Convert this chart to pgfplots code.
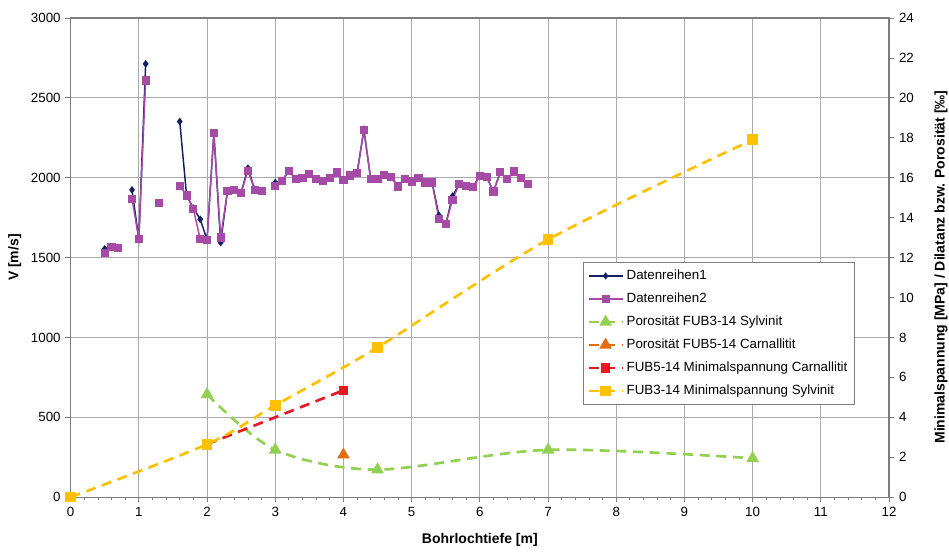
\documentclass[border=0pt]{standalone}
\usepackage{fontspec}
\setmainfont{Liberation Sans}
\usepackage{pgfplots}
\pgfplotsset{compat=1.18}
\definecolor{dr1}{RGB}{20,30,100}
\definecolor{dr2}{RGB}{165,75,165}
\definecolor{grn}{RGB}{146,208,80}
\definecolor{org}{RGB}{228,108,10}
\definecolor{rd}{RGB}{230,25,35}
\definecolor{yel}{RGB}{255,192,0}
\definecolor{gridgray}{RGB}{170,170,170}
\definecolor{axgray}{RGB}{125,125,125}
\pgfplotsset{
  base/.style={scale only axis, width=614pt, height=359.5pt,
    xmin=0, xmax=12,
    /pgf/number format/assume math mode=true,
    /pgf/number format/1000 sep={},
    tick label style={font=\fontsize{10}{12}\selectfont},
    label style={font=\fontsize{10.5}{12}\selectfont\bfseries},
    tick align=outside, major tick length=4pt, minor tick length=2.5pt,
    tick style={axgray, line width=0.6pt},
  },
  dashline/.style={line width=2pt, dash pattern=on 7.5pt off 5pt},
}
\begin{document}
\begin{tikzpicture}
\begin{axis}[base, name=main,
  ymin=0, ymax=3000, ytick={0,500,...,3000},
  xtick={0,...,12}, minor x tick num=4,
  xtick pos=bottom, ytick pos=left,
  grid=major, major grid style={gridgray, line width=0.8pt},
  axis line style={axgray, line width=0.9pt},
  xlabel={Bohrlochtiefe [m]}, ylabel={V [m/s]},
  xlabel style={at={(axis description cs:0.5,-0.089)}, anchor=center},
  ylabel style={at={(axis description cs:-0.0684,0.5)}, anchor=center},
  unbounded coords=jump,
  ]
  % Datenreihen1
  \addplot[dr1, line width=1.1pt, mark=diamond*, mark size=2pt] coordinates {
    (0.5,1555)(0.6,1565)(0.7,1559)(0.8,nan)(0.9,1924)(1.0,1615)(1.1,2713)
    (1.2,nan)(1.6,2352)(1.7,1889)(1.8,1810)(1.9,1740)(2.0,1611)(2.1,2279)
    (2.2,1594)(2.3,1918)(2.4,1924)(2.5,1907)(2.6,2060)(2.7,1924)(2.8,1916)
    (2.9,nan)(3.0,1970)(3.1,1982)(3.2,2043)(3.3,1993)(3.4,1997)(3.5,2024)
    (3.6,1991)(3.7,1981)(3.8,1997)(3.9,2033)(4.0,1987)(4.1,2014)(4.2,2029)
    (4.3,2300)(4.4,1991)(4.5,1991)(4.6,2018)(4.7,2004)(4.8,1945)(4.9,1991)
    (5.0,1976)(5.1,1997)(5.2,1970)(5.3,1970)(5.4,1765)(5.5,1709)(5.6,1885)
    (5.7,1962)(5.8,1949)(5.9,1941)(6.0,2012)(6.1,2004)(6.2,1914)(6.3,2035)
    (6.4,1991)(6.5,2039)(6.6,1997)(6.7,1962)};
  % Datenreihen2
  \addplot[dr2, line width=1.1pt, mark=square*, mark size=2.5pt] coordinates {
    (0.5,1528)(0.6,1565)(0.7,1559)(0.8,nan)(0.9,1868)(1.0,1615)(1.1,2609)
    (1.2,nan)(1.3,1843)(1.4,nan)(1.6,1949)(1.7,1889)(1.8,1803)(1.9,1615)
    (2.0,1611)(2.1,2279)(2.2,1626)(2.3,1918)(2.4,1924)(2.5,1907)(2.6,2043)
    (2.7,1924)(2.8,1916)(2.9,nan)(3.0,1949)(3.1,1982)(3.2,2043)(3.3,1993)
    (3.4,1997)(3.5,2024)(3.6,1991)(3.7,1981)(3.8,1997)(3.9,2033)(4.0,1987)
    (4.1,2014)(4.2,2029)(4.3,2300)(4.4,1991)(4.5,1991)(4.6,2018)(4.7,2004)
    (4.8,1945)(4.9,1991)(5.0,1976)(5.1,1997)(5.2,1970)(5.3,1970)(5.4,1741)
    (5.5,1709)(5.6,1862)(5.7,1962)(5.8,1949)(5.9,1941)(6.0,2012)(6.1,2004)
    (6.2,1914)(6.3,2035)(6.4,1991)(6.5,2039)(6.6,1997)(6.7,1962)};
\end{axis}
\begin{axis}[base,
  ymin=0, ymax=24, ytick={0,2,...,24},
  axis x line=none, axis y line*=right,
  axis line style={axgray, line width=0.9pt, -},
  ylabel={Minimalspannung [MPa] / Dilatanz bzw. Porosität [‰]},
  ylabel style={at={(axis description cs:1.0635,0.48)}, anchor=center},
  clip=false,
  legend cell align=left,
  legend style={at={(0.626,0.491)}, anchor=north west, draw=axgray,
    font=\fontsize{10}{12}\selectfont, row sep=4.5pt,
    inner xsep=3pt, inner ysep=4pt},
  legend image code/.code={\draw[#1, mark repeat=2, mark phase=2]
    plot coordinates {(0cm,0cm)(0.45cm,0cm)(0.9cm,0cm)};},
  ]
  \addlegendimage{dr1, line width=0.9pt, mark=diamond*, mark size=2pt}
  \addlegendentry{Datenreihen1}
  \addlegendimage{dr2, line width=0.9pt, mark=square*, mark size=2.5pt}
  \addlegendentry{Datenreihen2}
  \addplot[grn, dashline, smooth, mark=triangle*, mark size=3.5pt,
    mark options={solid}] coordinates {
    (2,5.15)(3,2.37)(4.5,1.38)(7,2.37)(10,1.95)};
  \addlegendentry{Porosität FUB3-14 Sylvinit}
  \addplot[org, dashline, mark=triangle*, mark size=3.5pt,
    mark options={solid}] coordinates {(4,2.12)};
  \addlegendentry{Porosität FUB5-14 Carnallitit}
  \addplot[rd, dashline, mark=square*, mark size=2.5pt,
    mark options={solid}] coordinates {(2,2.65)(4,5.35)};
  \addlegendentry{FUB5-14 Minimalspannung Carnallitit}
  \addplot[yel, dashline, smooth, mark=square*, mark size=3pt,
    mark options={solid}] coordinates {
    (0,0)(2,2.65)(3,4.6)(4.5,7.5)(7,12.9)(10,17.9)};
  \addlegendentry{FUB3-14 Minimalspannung Sylvinit}
\end{axis}
\pgfresetboundingbox
\path[use as bounding box] ([xshift=-53pt,yshift=-41.25pt]main.south west)
  rectangle ([xshift=45pt,yshift=13.5pt]main.north east);
\end{tikzpicture}
\end{document}
